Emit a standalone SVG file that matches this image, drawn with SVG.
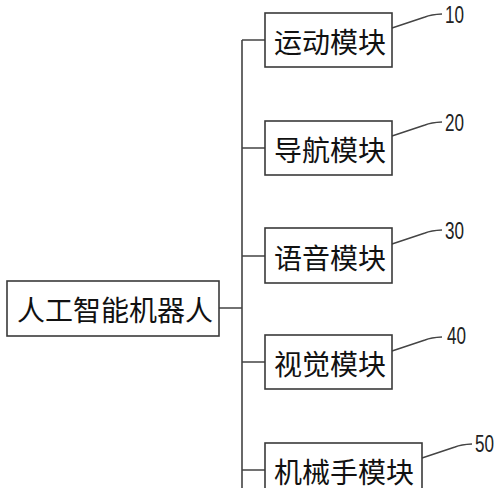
<svg xmlns="http://www.w3.org/2000/svg" width="500" height="488" viewBox="0 0 500 488">
<style>
.box{fill:#fff;stroke:#3a3a3a;stroke-width:1.6}
.t{font-family:"Noto Sans CJK SC","Noto Sans CJK JP",sans-serif;font-size:28px;fill:#111;dominant-baseline:central}
.n{font-family:"Liberation Sans",Arial,sans-serif;font-size:23px;fill:#222}
.c{fill:none;stroke:#444;stroke-width:1.6}
.l{fill:none;stroke:#444;stroke-width:1.4}
</style>
<rect width="500" height="488" fill="#fff"/>
<g id="connectors">
<path class="c" d="M219,308 H242 M242,40 V488 M242,40 H265 M242,148 H265 M242,256 H265 M242,362 H265 M242,470 H265"/>
<path class="l" d="M392,28 L425,17 Q431,14.5 442,14"/>
<path class="l" d="M392,136 L425,125 Q431,122.5 442,122"/>
<path class="l" d="M392,244 L425,233 Q431,230.5 442,230"/>
<path class="l" d="M392,351 L425,340 Q431,337.5 442,337"/>
<path class="l" d="M422,458 L455,447 Q461,444.5 472,444"/>
</g>
<g id="robot">
<rect class="box" x="7" y="281" width="212" height="55"/>
<text class="t" x="17" y="309">人工智能机器人</text>
</g>
<g id="m10">
<rect class="box" x="265" y="13" width="127" height="54"/>
<text class="t" x="274" y="41">运动模块</text>
<text class="n" x="445" y="23" textLength="19" lengthAdjust="spacingAndGlyphs">10</text>
</g>
<g id="m20">
<rect class="box" x="265" y="121" width="127" height="54"/>
<text class="t" x="274" y="149">导航模块</text>
<text class="n" x="445" y="131" textLength="19" lengthAdjust="spacingAndGlyphs">20</text>
</g>
<g id="m30">
<rect class="box" x="265" y="228" width="127" height="55"/>
<text class="t" x="274" y="257">语音模块</text>
<text class="n" x="445" y="239" textLength="19" lengthAdjust="spacingAndGlyphs">30</text>
</g>
<g id="m40">
<rect class="box" x="265" y="335" width="127" height="54"/>
<text class="t" x="274" y="363">视觉模块</text>
<text class="n" x="447" y="344" textLength="19" lengthAdjust="spacingAndGlyphs">40</text>
</g>
<g id="m50">
<rect class="box" x="265" y="443" width="157" height="54"/>
<text class="t" x="274" y="471">机械手模块</text>
<text class="n" x="475" y="452" textLength="19" lengthAdjust="spacingAndGlyphs">50</text>
</g>
</svg>
